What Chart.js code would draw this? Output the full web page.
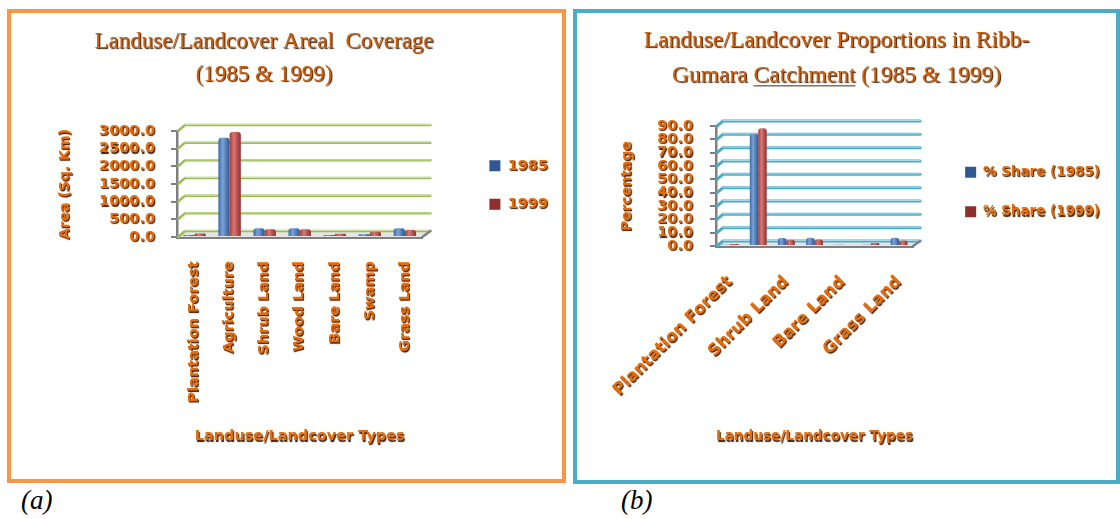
<!DOCTYPE html>
<html>
<head>
<meta charset="utf-8">
<script src="https://cdn.jsdelivr.net/npm/chart.js@4.4.1/dist/chart.umd.min.js"></script>
<style>
  html, body { margin: 0; padding: 0; background: #ffffff; }
  body { width: 1120px; height: 519px; position: relative; overflow: hidden; }
  .panel { position: absolute; box-sizing: border-box; border: 4px solid; }
  #pa { left: 7px; top: 9px; width: 559px; height: 474px; border-color: #F79646; }
  #pb { left: 573px; top: 9px; width: 547px; height: 475px; border-color: #4BACC6; }
  .panel canvas { position: absolute; left: 0; top: 0; }
  .tag { position: absolute; top: 485px; font: italic 27px "Liberation Serif", serif; color: #000; }
</style>
</head>
<body>
<div class="panel" id="pa"><canvas id="ca" width="551" height="466"></canvas></div>
<div class="panel" id="pb"><canvas id="cb" width="539" height="467"></canvas></div>
<div class="tag" style="left:21px">(a)</div>
<div class="tag" style="left:621px">(b)</div>

<script>
// Land use / land cover classes
const categories = ['Plantation Forest', 'Agriculture', 'Shrub Land', 'Wood Land', 'Bare Land', 'Swamp', 'Grass Land'];

// Areal coverage, sq. km
const area1985 = [60, 2810, 250, 250, 55, 75, 250];
const area1999 = [100, 2975, 220, 220, 95, 150, 195];

// Share of the Ribb-Gumara catchment, %
const share1985 = [1.0, 84.0, 6.0, 6.1, 1.0, 1.0, 6.2];
const share1999 = [1.5, 88.4, 4.6, 4.9, 0.8, 2.2, 4.1];

// Value axes: min, max, step
const areaAxis = [0, 3000, 500];
const shareAxis = [0, 90, 10];

const ORANGE = '#E46C0A';
const TITLE_ORANGE = '#CC5F0C';
const SHADOW = '#3f1c00';
const BLUE = ['#3C6AA6', '#7AA3D8', '#2F5891'];
const RED = ['#A33B38', '#DB7774', '#8F2F2C'];

// Canvas context whose text gets the embossed drop shadow
function embossedContext(canvas) {
  const ctx = canvas.getContext('2d');
  const fill = ctx.fillText.bind(ctx);
  ctx.fillText = function (text, x, y, maxWidth) {
    this.save();
    this.shadowColor = SHADOW;
    this.shadowOffsetX = 1;
    this.shadowOffsetY = 1.3;
    this.shadowBlur = 1;
    fill(text, x, y, maxWidth);
    this.restore();
  };
  return ctx;
}

// Cylinder-like horizontal shading for each bar
function shaded(colors, catPct) {
  return (c) => {
    if (c.type !== 'data' || !c.chart.chartArea) return colors[1];
    const xs = c.chart.scales.x;
    const w = xs.width / categories.length * catPct / 2;
    const cx = xs.getPixelForValue(c.dataIndex) + (c.datasetIndex - 0.5) * w;
    const g = c.chart.ctx.createLinearGradient(cx - w / 2, 0, cx + w / 2, 0);
    g.addColorStop(0, colors[0]);
    g.addColorStop(0.38, colors[1]);
    g.addColorStop(1, colors[2]);
    return g;
  };
}

// Side wall, back wall gridlines and floor of the 3-D plot box
const wall3d = {
  id: 'wall3d',
  beforeDatasetsDraw(chart, args, o) {
    const { ctx, chartArea: { left, right, bottom }, scales: { y } } = chart;
    ctx.save();
    ctx.fillStyle = o.floor;
    ctx.beginPath();
    ctx.moveTo(left, bottom);
    ctx.lineTo(left + o.dx, bottom - o.dy);
    ctx.lineTo(right + o.dx, bottom - o.dy);
    ctx.lineTo(right, bottom);
    ctx.closePath();
    ctx.fill();
    ctx.lineCap = 'round';
    y.ticks.forEach(t => {
      const py = y.getPixelForValue(t.value);
      ctx.strokeStyle = o.grid;
      ctx.lineWidth = o.width;
      ctx.beginPath();
      ctx.moveTo(left + 1, py);
      ctx.lineTo(left + o.dx, py - o.dy);
      ctx.lineTo(right + o.dx, py - o.dy);
      ctx.stroke();
      ctx.strokeStyle = o.shine;
      ctx.lineWidth = 1;
      ctx.beginPath();
      ctx.moveTo(left + o.dx, py - o.dy - 0.5);
      ctx.lineTo(right + o.dx, py - o.dy - 0.5);
      ctx.stroke();
    });
    ctx.strokeStyle = o.edge;
    ctx.lineWidth = 2.5;
    ctx.beginPath();
    ctx.moveTo(right, bottom);
    ctx.lineTo(right + o.dx, bottom - o.dy);
    ctx.stroke();
    ctx.restore();
  }
};

// Underline beneath one word of the second title line
const titleUnderline = {
  id: 'titleUnderline',
  afterDraw(chart, args, o) {
    if (!o.word) return;
    const tb = chart.titleBlock;
    const t = chart.options.plugins.title;
    const ctx = chart.ctx;
    const size = t.font.size;
    const lh = size * t.font.lineHeight;
    const line = t.text[1];
    ctx.save();
    ctx.font = size + 'px ' + t.font.family;
    const full = ctx.measureText(line).width;
    const start = (tb.left + tb.right) / 2 - full / 2 + ctx.measureText(line.slice(0, line.indexOf(o.word))).width;
    const w = ctx.measureText(o.word).width;
    const yy = tb.top + t.padding.top + lh * 1.5 + size * 0.42;
    ctx.strokeStyle = '#4a2a10';
    ctx.lineWidth = 1;
    ctx.beginPath();
    ctx.moveTo(start, yy);
    ctx.lineTo(start + w, yy);
    ctx.stroke();
    ctx.restore();
  }
};

function buildChart(canvas, s) {
  return new Chart(embossedContext(canvas), {
    type: 'bar',
    data: {
      labels: categories,
      datasets: [
        { label: s.series[0], data: s.values[0], backgroundColor: shaded(BLUE, s.catPct) },
        { label: s.series[1], data: s.values[1], backgroundColor: shaded(RED, s.catPct) }
      ]
    },
    plugins: [wall3d, titleUnderline],
    options: {
      responsive: false,
      animation: false,
      devicePixelRatio: 1,
      layout: { padding: { left: s.pad[0], right: s.pad[1], top: 0, bottom: 0 } },
      datasets: {
        bar: {
          categoryPercentage: s.catPct,
          barPercentage: 1.0,
          borderWidth: 0,
          borderRadius: { topLeft: 3, topRight: 3, bottomLeft: 0, bottomRight: 0 },
          borderSkipped: false
        }
      },
      plugins: {
        title: {
          display: true,
          text: s.title,
          color: TITLE_ORANGE,
          font: { family: 'Liberation Serif', size: s.titleSize, weight: 'normal', lineHeight: s.titleLine / s.titleSize },
          padding: { top: s.titlePad[0], bottom: s.titlePad[1] }
        },
        legend: {
          position: 'right',
          fullSize: false,
          align: 'center',
          maxWidth: 220,
          title: { display: s.legendLift > 0, text: '', padding: 0, font: { size: s.legendLift, lineHeight: 1 } },
          labels: {
            color: ORANGE,
            font: { family: 'DejaVu Sans', weight: 'bold', size: s.legendFont },
            boxWidth: 11,
            boxHeight: 11,
            padding: s.legendPad
          }
        },
        tooltip: { enabled: false },
        wall3d: s.wall,
        titleUnderline: { word: s.underline }
      },
      scales: {
        x: {
          grid: { display: false, drawTicks: false },
          border: { display: true, color: '#7F7F7F', width: 3 },
          ticks: {
            color: ORANGE,
            font: { family: 'DejaVu Sans', weight: 'bold', size: s.xFont },
            minRotation: s.rotation,
            maxRotation: s.rotation,
            autoSkip: false,
            padding: s.xPad,
            callback: s.xLabel
          },
          title: {
            display: true,
            text: 'Landuse/Landcover Types',
            color: ORANGE,
            font: { family: 'DejaVu Sans', weight: 'bold', size: 14.5, lineHeight: 1.2 },
            padding: { top: 0, bottom: s.xTitlePad }
          },
          afterFit: (sc) => { sc.height = s.xHeight; }
        },
        y: {
          min: s.axis[0],
          max: s.axis[1],
          ticks: {
            stepSize: s.axis[2],
            autoSkip: false,
            color: ORANGE,
            font: { family: 'DejaVu Sans', weight: 'bold', size: s.yFont, lineHeight: 1 },
            padding: s.yPad,
            callback: (v) => Number(v).toFixed(1)
          },
          grid: { drawOnChartArea: false, drawTicks: true, tickLength: 6, color: '#7F7F7F', lineWidth: 2 },
          border: { color: '#7F7F7F', width: 2.5 },
          title: {
            display: true,
            text: s.yTitle,
            color: ORANGE,
            font: { family: 'DejaVu Sans', weight: 'bold', size: 14, lineHeight: 1.2 },
            padding: { top: s.yTitlePad, bottom: 0 }
          },
          afterFit: (sc) => { sc.width = s.yWidth; }
        },
        gap: {
          type: 'linear',
          position: 'right',
          display: true,
          grid: { display: false, drawTicks: false },
          border: { display: false },
          ticks: { display: false },
          afterFit: (sc) => { sc.width = s.gap; }
        }
      }
    }
  });
}

buildChart(document.getElementById('ca'), {
  title: ['Landuse/Landcover Areal  Coverage', '(1985 & 1999)'],
  titleSize: 23, titleLine: 33, titlePad: [12.5, 39.5],
  series: ['1985', '1999'],
  values: [area1985, area1999],
  axis: areaAxis,
  catPct: 0.64,
  pad: [-41, 4],
  yWidth: 207, yTitle: 'Area (Sq. Km)', yTitlePad: 86.6, yFont: 14.5, yPad: 16,
  xHeight: 242, xFont: 14.5, xPad: 24, xTitlePad: 33.6, rotation: 90,
  xLabel: (v, i) => categories[i],
  legendFont: 14.5, legendPad: 24, legendLift: 2, gap: 43,
  underline: null,
  wall: { dx: 8, dy: 6, grid: '#9BBB59', shine: 'rgba(215,235,170,0.8)', width: 2.5, floor: '#E4E4E4', edge: '#808080' }
});

buildChart(document.getElementById('cb'), {
  title: ['Landuse/Landcover Proportions in Ribb-', 'Gumara Catchment (1985 & 1999)'],
  titleSize: 23.5, titleLine: 35, titlePad: [10.5, 32.5],
  series: ['% Share (1985)', '% Share (1999)'],
  values: [share1985, share1999],
  axis: shareAxis,
  catPct: 0.6,
  pad: [-14, 6],
  yWidth: 153, yTitle: 'Percentage', yTitlePad: 55.6, yFont: 14.5, yPad: 17,
  xHeight: 234, xFont: 16.5, xPad: 26, xTitlePad: 34.6, rotation: 45,
  xLabel: (v, i) => (i % 2 === 0 ? categories[i] : ''),
  legendFont: 13.5, legendPad: 26, legendLift: 12, gap: 26,
  underline: 'Catchment',
  wall: { dx: 7, dy: 5, grid: '#4BACC6', shine: 'rgba(190,230,240,0.8)', width: 3, floor: '#E4E4E4', edge: '#808080' }
});
</script>
</body>
</html>
